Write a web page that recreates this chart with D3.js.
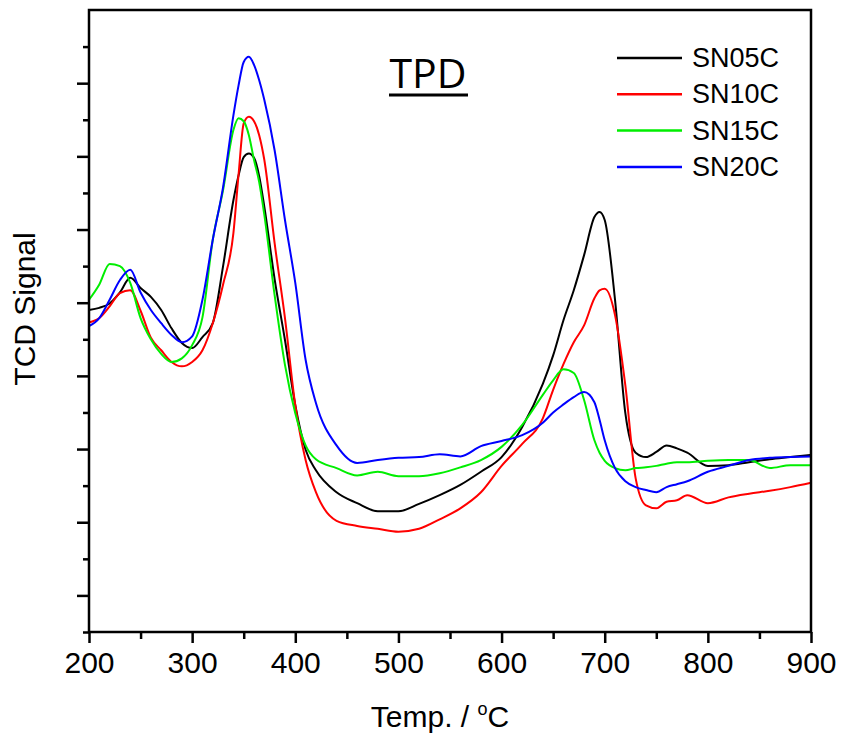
<!DOCTYPE html>
<html>
<head>
<meta charset="utf-8">
<script src="https://cdn.jsdelivr.net/npm/d3@7"></script>
<style>
  body { margin: 0; background: #fff; }
  text { font-family: "Liberation Sans", Arial, sans-serif; }
</style>
</head>
<body>
<div id="chart"></div>
<script>
var width = 844, height = 735;
var margin = {top: 10, right: 33, bottom: 103, left: 89};

// temperatures (°C) shared by all series
var temps = [200, 210, 220, 230, 240, 250, 260, 270, 280, 290, 300, 310, 320, 330, 340, 345, 350, 355, 360, 365,
             370, 380, 390, 400, 410, 420, 440, 460, 480, 500, 520, 540, 560, 580, 600, 620, 640, 650, 660, 670,
             680, 690, 695, 700, 710, 720, 730, 740, 750, 760, 770, 780, 800, 820, 840, 860, 880, 900];

var sn05c = [4.40, 4.43, 4.49, 4.64, 4.84, 4.70, 4.58, 4.40, 4.15, 3.95, 3.88, 4.03, 4.22, 5.00, 5.90, 6.24, 6.49, 6.54, 6.48, 6.23,
             5.81, 4.82, 3.99, 3.10, 2.49, 2.21, 1.91, 1.76, 1.65, 1.65, 1.75, 1.87, 2.01, 2.19, 2.39, 2.80, 3.39, 3.78, 4.26, 4.67,
             5.15, 5.67, 5.74, 5.63, 4.54, 2.99, 2.45, 2.39, 2.46, 2.55, 2.51, 2.45, 2.27, 2.28, 2.32, 2.36, 2.39, 2.42];

var sn10c = [4.23, 4.29, 4.45, 4.63, 4.67, 4.39, 4.02, 3.85, 3.69, 3.63, 3.69, 3.85, 4.22, 4.75, 5.45, 6.25, 6.95, 7.04, 6.98, 6.79,
             6.45, 5.31, 4.29, 3.10, 2.35, 1.91, 1.52, 1.45, 1.41, 1.37, 1.41, 1.54, 1.69, 1.91, 2.27, 2.57, 2.92, 3.31, 3.66, 3.96,
             4.19, 4.56, 4.67, 4.69, 4.33, 3.37, 2.10, 1.73, 1.69, 1.78, 1.80, 1.87, 1.76, 1.84, 1.89, 1.93, 1.98, 2.04];

var sn15c = [4.54, 4.75, 5.03, 5.00, 4.77, 4.29, 4.00, 3.80, 3.69, 3.74, 3.92, 4.30, 5.36, 6.04, 6.86, 7.02, 6.98, 6.79, 6.45, 6.15,
             5.70, 4.60, 3.65, 2.99, 2.55, 2.36, 2.24, 2.14, 2.19, 2.13, 2.13, 2.17, 2.25, 2.35, 2.53, 2.83, 3.24, 3.44, 3.59, 3.54,
             3.17, 2.62, 2.45, 2.34, 2.24, 2.21, 2.24, 2.25, 2.27, 2.30, 2.32, 2.32, 2.34, 2.35, 2.35, 2.24, 2.28, 2.28];

var sn20c = [4.18, 4.29, 4.54, 4.81, 4.95, 4.64, 4.40, 4.22, 4.06, 3.96, 4.04, 4.54, 5.36, 6.08, 7.06, 7.47, 7.79, 7.86, 7.75, 7.54,
             7.27, 6.58, 5.63, 4.77, 3.72, 3.13, 2.55, 2.31, 2.35, 2.38, 2.39, 2.43, 2.40, 2.54, 2.61, 2.69, 2.86, 3.00, 3.11, 3.21,
             3.28, 3.14, 2.90, 2.62, 2.24, 2.06, 1.98, 1.94, 1.91, 1.98, 2.02, 2.06, 2.19, 2.27, 2.35, 2.38, 2.39, 2.40];

var seriesNames  = ["SN05C", "SN10C", "SN15C", "SN20C"];
var seriesValues = [sn05c, sn10c, sn15c, sn20c];
var colors       = ["#000000", "#ff0000", "#00ee00", "#0000ff"];

var xTicks = [200, 300, 400, 500, 600, 700, 800, 900];
var xMinor = [250, 350, 450, 550, 650, 750, 850];
var yMajor = [0.5, 1.5, 2.5, 3.5, 4.5, 5.5, 6.5, 7.5];
var yMinor = [0, 1, 2, 3, 4, 5, 6, 7, 8];

var innerW = width - margin.left - margin.right,
    innerH = height - margin.top - margin.bottom;

var x = d3.scaleLinear().domain([200, 900]).range([0, innerW]);
var y = d3.scaleLinear().domain([0, 8.5]).range([innerH, 0]);

var svg = d3.select("#chart")
    .append("svg")
    .attr("width", width)
    .attr("height", height)
    .append("g")
    .attr("transform", "translate(" + margin.left + "," + margin.top + ")");

// minor ticks first, then major axes on top
svg.append("g")
    .attr("transform", "translate(0," + innerH + ")")
    .call(d3.axisBottom(x).tickValues(xMinor).tickSize(7).tickFormat("").tickSizeOuter(0))
    .call(function(g) { g.select(".domain").remove(); });

var xAxis = svg.append("g")
    .attr("transform", "translate(0," + innerH + ")")
    .call(d3.axisBottom(x).tickValues(xTicks).tickSize(11).tickPadding(9).tickSizeOuter(0));
xAxis.select(".domain").remove();
xAxis.selectAll("text").style("font-size", "30px").attr("fill", "#000");

svg.append("g")
    .call(d3.axisLeft(y).tickValues(yMinor).tickSize(6).tickFormat("").tickSizeOuter(0))
    .call(function(g) { g.select(".domain").remove(); });

svg.append("g")
    .call(d3.axisLeft(y).tickValues(yMajor).tickSize(12).tickFormat("").tickSizeOuter(0))
    .call(function(g) { g.select(".domain").remove(); });

svg.selectAll(".tick line").attr("stroke", "#000").attr("stroke-width", 2.5);

// plot lines
var line = d3.line()
    .x(function(d) { return x(d[0]); })
    .y(function(d) { return y(d[1]); })
    .curve(d3.curveMonotoneX);

svg.append("g").selectAll("path")
    .data(seriesValues)
    .enter().append("path")
    .attr("d", function(vals) { return line(temps.map(function(t, i) { return [t, vals[i]]; })); })
    .attr("fill", "none")
    .attr("stroke", function(d, i) { return colors[i]; })
    .attr("stroke-width", 2);

// frame
svg.append("rect")
    .attr("width", innerW)
    .attr("height", innerH)
    .attr("fill", "none")
    .attr("stroke", "#000")
    .attr("stroke-width", 2.5);

// legend
var legend = svg.append("g").attr("transform", "translate(528,48)");
var items = legend.selectAll("g")
    .data(seriesNames)
    .enter().append("g")
    .attr("transform", function(d, i) { return "translate(0," + (i * 36.3) + ")"; });
items.append("line")
    .attr("x1", 0).attr("x2", 65)
    .attr("stroke", function(d, i) { return colors[i]; })
    .attr("stroke-width", 2.5);
items.append("text")
    .attr("x", 75)
    .attr("y", 9)
    .style("font-size", "27px")
    .text(function(d) { return d; });

// title
svg.append("text")
    .attr("x", 339)
    .attr("y", 78)
    .style("font-family", "'Open Sans', sans-serif")
    .style("font-size", "41px")
    .style("text-anchor", "middle")
    .text("TPD");
svg.append("line")
    .attr("x1", 300).attr("x2", 379)
    .attr("y1", 85).attr("y2", 85)
    .attr("stroke", "#000")
    .attr("stroke-width", 3);

// axis titles
var xt = svg.append("text")
    .attr("x", innerW / 2 - 10)
    .attr("y", innerH + 95)
    .style("font-size", "30px")
    .style("text-anchor", "middle");
xt.append("tspan").text("Temp. / ");
xt.append("tspan").attr("dy", -12).style("font-size", "18px").text("o");
xt.append("tspan").attr("dy", 12).text("C");

svg.append("text")
    .attr("transform", "translate(-54," + (innerH / 2 - 12) + ") rotate(-90)")
    .style("font-size", "30px")
    .style("text-anchor", "middle")
    .text("TCD Signal");
</script>
</body>
</html>
